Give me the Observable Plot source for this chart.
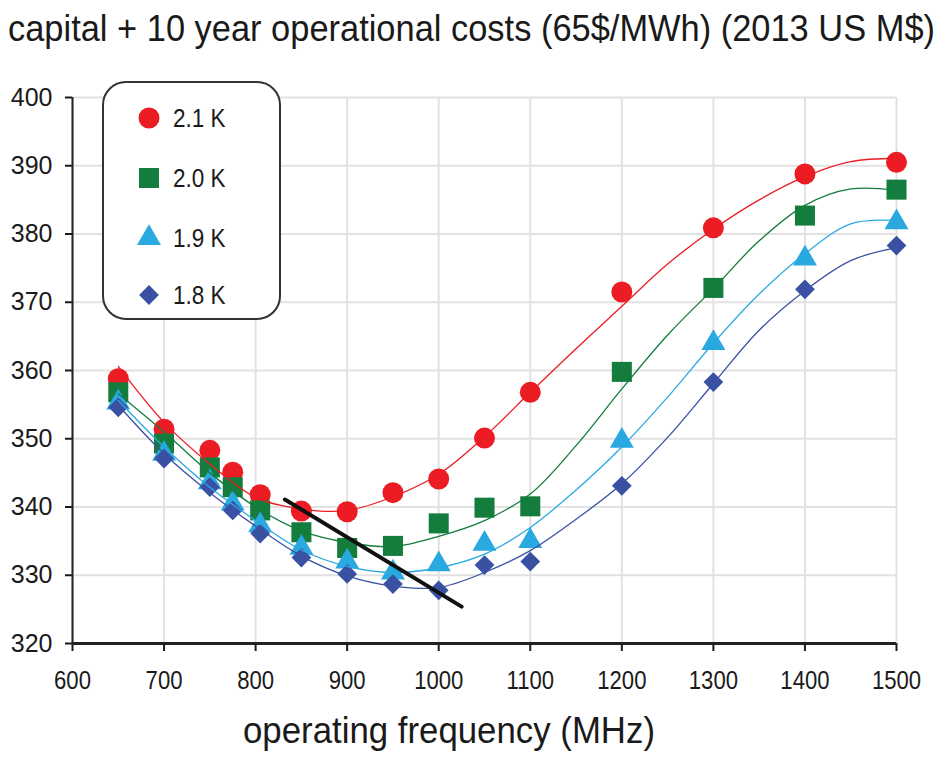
<!DOCTYPE html>
<html><head><meta charset="utf-8">
<script src="https://cdn.jsdelivr.net/npm/d3@7"></script>
<script src="https://cdn.jsdelivr.net/npm/@observablehq/plot@0.6"></script>
<style>
body{margin:0;background:#fff;font-family:"Liberation Sans",Arial,sans-serif;}
#wrap{position:relative;width:943px;height:758px;overflow:hidden;background:#fff;}
#title{position:absolute;left:8px;top:11px;font-size:36px;line-height:1;color:#1a1a1a;white-space:nowrap;transform-origin:0 0;}
#chart{position:absolute;left:0;top:62px;}
#xlabel{position:absolute;top:712px;font-size:37px;line-height:1;color:#1a1a1a;white-space:nowrap;transform-origin:0 0;}
#legend{position:absolute;left:102px;top:81px;width:175px;height:235px;border:2px solid #333;border-radius:24px;background:#fff;}
.entry{position:absolute;left:0;height:30px;}
.entry svg{position:absolute;left:30px;top:0;}
.entry span{position:absolute;left:69px;top:2px;font-size:25px;line-height:26px;color:#1a1a1a;white-space:nowrap;transform:scaleX(0.9);transform-origin:0 0;}
</style></head><body>
<div id="wrap">
 <div id="title"></div>
 <div id="chart"></div>
 <div id="xlabel"></div>
 <div id="legend"></div>
</div>
<script>
const titleText = "capital + 10 year operational costs (65$/MWh) (2013 US M$)";
const xLabelText = "operating frequency (MHz)";
const seriesNames = ["2.1 K", "2.0 K", "1.9 K", "1.8 K"];
const seriesColors = ["#ec1c24", "#147c3c", "#2aa9e0", "#3a51a3"];
const seriesSymbols = ["circle", "square", "triangle", "diamond2"];
const seriesR = [10.5, 11.3, 8.9, 8.9];

const xTicks = [600, 700, 800, 900, 1000, 1100, 1200, 1300, 1400, 1500];
const yTicks = [320, 330, 340, 350, 360, 370, 380, 390, 400];

// measured points
const freqs = [650, 700, 750, 775, 805, 850, 900, 950, 1000, 1050, 1100, 1200, 1300, 1400, 1500];
const cost21 = [358.8, 351.4, 348.3, 345.1, 341.8, 339.4, 339.3, 342.1, 344.1, 350.1, 356.8, 371.5, 380.9, 388.8, 390.5];
const cost20 = [356.8, 349.3, 345.8, 342.9, 339.5, 336.3, 334.0, 334.3, 337.6, 339.9, 340.1, 359.8, 372.1, 382.7, 386.5];
const cost19 = [355.3, 347.8, 343.6, 340.5, 337.3, 334.0, 332.0, 330.4, 331.6, 334.6, 335.0, 349.7, 364.0, 376.4, 381.7];
const cost18 = [354.6, 347.1, 342.9, 339.5, 336.1, 332.6, 330.2, 328.7, 327.8, 331.5, 332.0, 343.1, 358.3, 371.9, 378.3];

// fitted trend curves
const trendFreqs = [650, 700, 750, 800, 850, 900, 950, 1000, 1050, 1100, 1150, 1200, 1250, 1300, 1350, 1400, 1450, 1500];
const trend21 = [360.6, 352.4, 346.3, 341.4, 339.7, 339.5, 341.5, 344.8, 350.3, 356.8, 363.2, 369.4, 375.6, 380.7, 385.0, 388.4, 390.6, 391.1];
const trend20 = [356.6, 351.0, 345.0, 340.0, 336.5, 334.8, 334.2, 335.7, 338.0, 341.9, 349.0, 357.3, 365.2, 372.0, 379.0, 384.2, 386.6, 386.4];
const trend19 = [355.6, 348.8, 342.9, 338.0, 333.7, 331.3, 330.4, 331.1, 333.1, 337.0, 342.5, 348.8, 356.1, 364.0, 371.2, 377.1, 381.5, 382.0];
const trend18 = [354.9, 347.8, 342.1, 337.2, 332.8, 329.9, 328.4, 328.2, 330.4, 333.6, 338.2, 343.4, 350.2, 358.1, 365.9, 371.7, 376.1, 378.0];

// black optimum line
const optX = [832, 1025];
const optY = [341.1, 325.4];

const points = [cost21, cost20, cost19, cost18];
const trends = [trend21, trend20, trend19, trend18];

const lineMarks = trends.map((t, s) =>
  Plot.line(trendFreqs.map((f, i) => ({f, v: t[i]})), {x: "f", y: "v", stroke: seriesColors[s], strokeWidth: 1.3, curve: "catmull-rom"}));
const dotMarks = points.map((p, s) =>
  Plot.dot(freqs.map((f, i) => ({f, v: p[i]})), {x: "f", y: "v", symbol: seriesSymbols[s], fill: seriesColors[s], stroke: "none", r: seriesR[s]}));

const plot = Plot.plot({
  width: 943, height: 643,
  marginLeft: 72, marginRight: 47, marginTop: 35, marginBottom: 62,
  style: {fontFamily: "'Liberation Sans', Arial, sans-serif", fontSize: "25px", color: "#1a1a1a", background: "transparent", overflow: "visible"},
  x: {domain: [600, 1500]},
  y: {domain: [320, 400]},
  marks: [
    Plot.gridX(xTicks, {stroke: "#e2e2e2", strokeOpacity: 1, strokeWidth: 2}),
    Plot.gridY(yTicks, {stroke: "#e2e2e2", strokeOpacity: 1, strokeWidth: 2}),
    Plot.axisX(xTicks, {tickSize: 8, tickPadding: 19, tickFormat: d => String(d), strokeWidth: 2, label: null, fontSize: 26}),
    Plot.axisY(yTicks, {tickSize: 7, tickPadding: 13, tickFormat: d => String(d), strokeWidth: 2, label: null, fontSize: 25}),
    Plot.ruleX([600], {stroke: "#222", strokeWidth: 2}),
    Plot.ruleY([320], {stroke: "#222", strokeWidth: 3}),
    ...dotMarks,
    ...lineMarks,
    Plot.line(optX.map((x, i) => ({x, y: optY[i]})), {x: "x", y: "y", stroke: "#111", strokeWidth: 4})
  ]
});
document.getElementById("chart").appendChild(plot);

// narrow lettering of the x tick labels
plot.querySelectorAll('g[aria-label="x-axis tick label"] text').forEach(t => {
  const w = t.getComputedTextLength();
  t.setAttribute("textLength", (w * 0.85).toFixed(1));
  t.setAttribute("lengthAdjust", "spacingAndGlyphs");
});

// title & x label, squeezed to the reference's narrow lettering
function fit(el, text, left, width) {
  el.textContent = text;
  const w = el.getBoundingClientRect().width;
  el.style.left = left + "px";
  el.style.transform = `scaleX(${width / w})`;
}
fit(document.getElementById("title"), titleText, 8, 927);
fit(document.getElementById("xlabel"), xLabelText, 243, 412);

// legend
const legend = document.getElementById("legend");
const rowsY = [20, 80, 140, 197];
seriesNames.forEach((name, s) => {
  const row = document.createElement("div");
  row.className = "entry";
  row.style.top = rowsY[s] + "px";
  const sym = {circle: d3.symbolCircle, square: d3.symbolSquare, triangle: d3.symbolTriangle, diamond2: d3.symbolDiamond2}[seriesSymbols[s]];
  const path = d3.symbol(sym, Math.PI * seriesR[s] * seriesR[s])();
  row.innerHTML = `<svg width="30" height="30" viewBox="-15 -15 30 30"><path d="${path}" fill="${seriesColors[s]}"/></svg><span>${name}</span>`;
  legend.appendChild(row);
});
</script>
</body></html>
